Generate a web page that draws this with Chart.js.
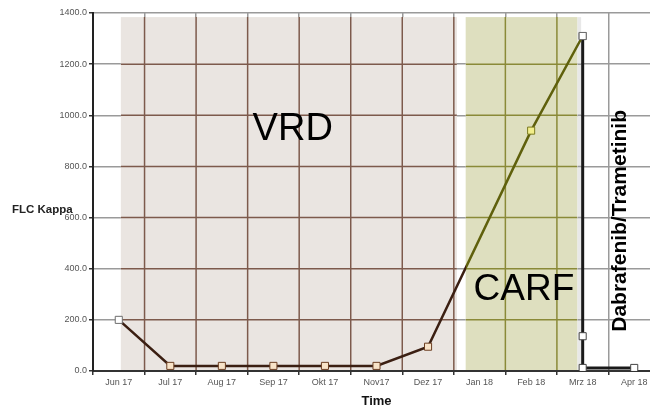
<!DOCTYPE html>
<html><head><meta charset="utf-8">
<script src="https://cdn.jsdelivr.net/npm/chart.js@4"></script>
<style>html,body{margin:0;padding:0;overflow:hidden;background:#fff}#wrap{width:672px;height:408px}</style>
</head><body><div id="wrap"><canvas id="c"></canvas></div>
<script>
// ---- data ----
const categories = ['Jun 17','Jul 17','Aug 17','Sep 17','Okt 17','Nov17','Dez 17','Jan 18','Feb 18','Mrz 18','Apr 18'];
const flcKappa = [200, 20, 20, 20, 20, 20, 95, null, 940, 1310, null];
const dabTramX = ['Mrz 18', 'Mrz 18', 'Mrz 18', 'Apr 18'];
const dabTramY = [1310, 136, 12, 12];
const yTicks = [0, 200, 400, 600, 800, 1000, 1200, 1400];
// therapy phases (in category index units)
const phaseNames = ['VRD', 'CARF', ''];
const phaseStart = [0.04, 6.73, 8.90];
const phaseEnd   = [6.56, 8.90, 8.97];
const phaseTop = 1384;

// ---- styles ----
const FONT = '"Liberation Sans", Arial, sans-serif';
const BROWN = '#3b1f12', OLIVE = '#5f600c', BLACK = '#1a1a1a';
const phaseFill = ['#eae5e1', '#dedfbf', '#e8e8e8'];
const phaseGrid = ['#7d5a4c', '#8a8a38', '#9a9a9a'];
const GRID = '#9a9a9a';

const mainPointFill = ['#ffffff','#f8e3c8','#f8e3c8','#f8e3c8','#f8e3c8','#f8e3c8','#f8e3c8','#fff','#f2ee8a','#ffffff','#fff'];
const mainPointBorder = ['#6d6d6d','#6b3e22','#6b3e22','#6b3e22','#6b3e22','#6b3e22','#6b3e22','#000','#7a7a20','#6d6d6d','#000'];

function mainColor(ctx) {
  const ch = ctx.chart, ca = ch.chartArea;
  if (!ca) return BROWN;
  const bx = ch.scales.x.getPixelForValue(phaseStart[1]);
  const f = Math.min(1, Math.max(0, (bx - ca.left) / (ca.right - ca.left)));
  const g = ch.ctx.createLinearGradient(ca.left, 0, ca.right, 0);
  g.addColorStop(0, BROWN); g.addColorStop(f, BROWN);
  g.addColorStop(f, OLIVE); g.addColorStop(1, OLIVE);
  return g;
}

const phasePlugin = {
  id: 'phases',
  beforeDatasetsDraw(chart) {
    const {ctx, chartArea: ca, scales: {x, y}} = chart;
    ctx.save();
    for (let p = 0; p < phaseStart.length; p++) {
      const x0 = x.getPixelForValue(phaseStart[p]);
      const x1 = x.getPixelForValue(phaseEnd[p]);
      const yt = y.getPixelForValue(phaseTop);
      const yb = ca.bottom - 1;
      ctx.fillStyle = phaseFill[p];
      ctx.fillRect(x0, yt, x1 - x0, yb - yt);
      ctx.save();
      ctx.beginPath(); ctx.rect(x0, yt, x1 - x0, yb - yt); ctx.clip();
      ctx.strokeStyle = phaseGrid[p]; ctx.lineWidth = 1.5;
      ctx.beginPath();
      for (let i = 0; i <= categories.length; i++) {
        const gx = x.getPixelForValue(i - 0.5);
        ctx.moveTo(gx, yt); ctx.lineTo(gx, yb);
      }
      yTicks.forEach(t => {
        const gy = y.getPixelForValue(t);
        ctx.moveTo(x0, gy); ctx.lineTo(x1, gy);
      });
      ctx.stroke();
      ctx.restore();
    }
    ctx.restore();
  },
  afterDatasetsDraw(chart) {
    const {ctx, scales: {x, y}} = chart;
    ctx.save();
    ctx.fillStyle = '#000';
    ctx.textAlign = 'center'; ctx.textBaseline = 'middle';
    ctx.font = '38px ' + FONT;
    ctx.fillText(phaseNames[0], x.getPixelForValue(3.375), y.getPixelForValue(946));
    ctx.font = '37px ' + FONT;
    ctx.fillText(phaseNames[1], x.getPixelForValue(7.86), y.getPixelForValue(317));
    ctx.save();
    ctx.translate(x.getPixelForValue(9.72), y.getPixelForValue(587));
    ctx.rotate(-Math.PI / 2);
    ctx.font = 'bold 21px ' + FONT;
    ctx.fillText('Dabrafenib/Trametinib', 0, 0);
    ctx.restore();
    ctx.font = 'bold 11.5px ' + FONT;
    ctx.fillStyle = '#222';
    ctx.textAlign = 'left';
    ctx.fillText('FLC Kappa', 12, y.getPixelForValue(630));
    ctx.restore();
  }
};

new Chart(document.getElementById('c'), {
  type: 'line',
  data: {
    labels: categories,
    datasets: [
      {
        data: flcKappa,
        spanGaps: true,
        borderColor: mainColor,
        borderWidth: 2.5,
        pointStyle: 'rect',
        pointRadius: 5,
        pointHoverRadius: 5,
        pointBorderWidth: 1,
        pointBackgroundColor: mainPointFill,
        pointBorderColor: mainPointBorder,
        tension: 0
      },
      {
        data: dabTramX.map((c, i) => ({x: c, y: dabTramY[i]})),
        borderColor: BLACK,
        borderWidth: 3,
        pointStyle: 'rect',
        pointRadius: 5,
        pointHoverRadius: 5,
        pointBorderWidth: 1,
        pointBackgroundColor: '#ffffff',
        pointBorderColor: '#444',
        tension: 0
      }
    ]
  },
  options: {
    responsive: true,
    maintainAspectRatio: false,
    devicePixelRatio: 1,
    animation: false,
    layout: {padding: {top: 13, right: 12, left: 0, bottom: 0}},
    plugins: {legend: {display: false}, tooltip: {enabled: false}},
    scales: {
      x: {
        type: 'category',
        offset: true,
        grid: {offset: true, color: GRID, lineWidth: 1.5, tickLength: 4, drawTicks: true, tickColor: '#333'},
        border: {color: '#333', width: 2},
        ticks: {font: {family: FONT, size: 9}, color: '#555', padding: 2, maxRotation: 0, autoSkip: false},
        title: {display: true, text: 'Time', font: {family: FONT, size: 13, weight: 'bold', lineHeight: 1}, color: '#111', padding: {top: 0, bottom: 0}},
        afterFit(s) { s.height = 37; }
      },
      y: {
        min: 0, max: 1400,
        grid: {color: GRID, lineWidth: 1.5, tickLength: 4, tickColor: '#333'},
        border: {color: '#222', width: 2},
        ticks: {stepSize: 200, font: {family: FONT, size: 9}, color: '#555', padding: 2, callback: v => Number(v).toFixed(1)},
        afterFit(s) { s.width = 93; }
      }
    }
  },
  plugins: [phasePlugin]
});
</script>
</body></html>
